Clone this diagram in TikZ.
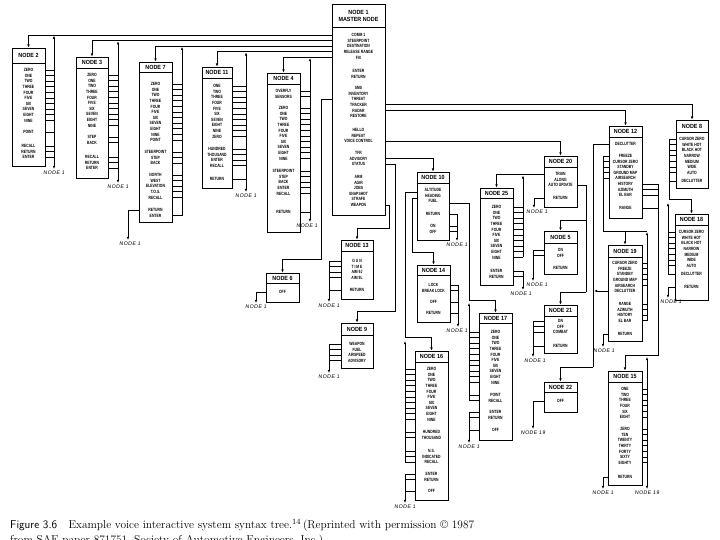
\documentclass[tikz,border=0pt]{standalone}
\usepackage{fontspec}
\newfontfamily\bodyf[FakeStretch=0.74]{Liberation Sans}
\newfontfamily\hdrf[FakeStretch=0.9]{Liberation Sans}
\newfontfamily\lblf[LetterSpace=8,FakeSlant=0.12]{Liberation Sans}
\usetikzlibrary{arrows.meta,fit}
\tikzset{
  ln/.style={line width=0.7pt},
  arr/.style={ln,-{Latex[length=3.2pt,width=2.6pt]}},
  arrtwo/.style={ln,{Latex[length=3.2pt,width=2.6pt]}-{Latex[length=3.2pt,width=2.6pt]}},
  body/.style={font=\bodyf\bfseries\fontsize{4.6}{5.6}\selectfont, align=center, inner sep=0pt, anchor=north},
  hdr/.style={font=\hdrf\bfseries\fontsize{6}{7}\selectfont, align=center, inner sep=0pt},
  lbl/.style={font=\lblf\fontsize{5.2}{6}\selectfont, inner sep=0pt, anchor=north},
}
\newcommand\mkbox[7]{%
  \node[fit={(#2,#3) (#4,#6)}, inner sep=0pt, draw, ln] (#1) {};
  \draw[line width=1.3pt] (#2+1.2,#6+0.6) -- (#4+0.6,#6+0.6) -- (#4+0.6,#3+1.2);
  \draw[ln] (#2,#5) -- (#4,#5);
  \node[hdr] (#1h) at ({(#2+#4)/2},{(#3+#5)/2+0.3}) {#7};
}
\newcommand\btxt[4]{\node[body] (#1) at (#2,#3-1.8) {#4};}
\newcommand\mystubs[3]{\foreach \yy in {#3}{\draw[ln] (#1,\yy) -- (#2,\yy);}}
\newcommand\nlab[4]{\node[lbl] (#1) at (#2,#3) {#4};}
\newcommand\digs{ZERO\\ONE\\TWO\\THREE\\FOUR\\FIVE\\SIX\\SEVEN\\EIGHT\\NINE}
\newcommand\irmodes{CURSOR ZERO\\WHITE HOT\\BLACK HOT\\NARROW\\MEDIUM\\WIDE\\AUTO}
\begin{document}
\begin{tikzpicture}[x=1pt,y=-1pt]
\useasboundingbox (0,0) rectangle (720,540);
\clip (0,0) rectangle (720,540);
\fill[white] (0,0) rectangle (720,540);

% ---------- boxes
\mkbox{n1}{332}{4}{385}{27}{215}{NODE 1\\MASTER NODE}
\mkbox{n2}{12}{48}{45}{63}{166}{NODE 2}
\mkbox{n3}{76}{57}{108}{68}{178}{NODE 3}
\mkbox{n7}{139}{62}{172}{72}{222}{NODE 7}
\mkbox{n11}{202}{67}{232}{78}{188}{NODE 11}
\mkbox{n4}{267}{73}{300}{84}{232}{NODE 4}
\mkbox{n6}{266}{273}{299}{283}{302}{NODE 6}
\mkbox{n13}{341}{240}{373}{251}{299}{NODE 13}
\mkbox{n9}{341}{323}{373}{335}{368}{NODE 9}
\mkbox{n10}{417}{172}{449}{183}{240}{NODE 10}
\mkbox{n14}{417}{265}{450}{275}{322}{NODE 14}
\mkbox{n16}{415}{351}{448}{362}{500}{NODE 16}
\mkbox{n17}{479}{313}{512}{323}{440}{NODE 17}
\mkbox{n25}{480}{188}{513}{198}{285}{NODE 25}
\mkbox{n20}{544}{156}{577}{167}{207}{NODE 20}
\mkbox{n5}{544}{231}{577}{243}{274}{NODE 5}
\mkbox{n21}{544}{305}{577}{316}{353}{NODE 21}
\mkbox{n22}{544}{382}{577}{392}{412}{NODE 22}
\mkbox{n12}{609}{126}{642}{137}{218}{NODE 12}
\mkbox{n19}{608}{245}{642}{257}{341}{NODE 19}
\mkbox{n8}{676}{120}{708}{132}{188}{NODE 8}
\mkbox{n18}{675}{214}{708}{225}{300}{NODE 18}
\mkbox{n15}{608}{371}{642}{382}{485}{NODE 15}

% ---------- texts
\btxt{n1a}{358.5}{35}{COMM 1\\STEERPOINT\\DESTINATION\\RELEASE RANGE\\FIX}
\btxt{n1b}{358.5}{71}{ENTER\\RETURN}
\btxt{n1c}{358.5}{88}{SMS\\INVENTORY\\THREAT\\TRACKER\\RADAR\\RESTORE}
\btxt{n1d}{358.5}{130}{HELLO\\REPEAT\\VOICE CONTROL}
\btxt{n1e}{358.5}{153}{TFR\\ADVISORY\\STATUS}
\btxt{n1f}{358.5}{177}{ARM\\AGIR\\JOBS\\SNAPSHOT\\STRAFE\\WEAPON}

\btxt{n2a}{28.5}{70}{\digs}
\btxt{n2b}{28.5}{132}{POINT}
\btxt{n2c}{28.5}{146}{RECALL\\RETURN\\ENTER}

\btxt{n3a}{92}{75}{\digs}
\btxt{n3b}{92}{137}{STEP\\BACK}
\btxt{n3c}{92}{157}{RECALL\\RETURN\\ENTER}

\btxt{n7a}{155.5}{84}{\digs\\POINT}
\btxt{n7b}{155.5}{152}{STEERPOINT\\STEP\\BACK}
\btxt{n7c}{155.5}{175}{NORTH\\WEST\\ELEVATION\\T.O.S.\\RECALL}
\btxt{n7d}{155.5}{210}{RETURN\\ENTER}

\btxt{n11a}{217}{86}{ONE\\TWO\\THREE\\FOUR\\FIVE\\SIX\\SEVEN\\EIGHT\\NINE\\ZERO}
\btxt{n11b}{217}{149}{HUNDRED\\THOUSAND\\ENTER\\RECALL}
\btxt{n11c}{217}{179}{RETURN}

\btxt{n4a}{283.5}{91}{OVERFLY\\SENSORS}
\btxt{n4b}{283.5}{108}{\digs}
\btxt{n4c}{283.5}{171}{STEERPOINT\\STEP\\BACK\\ENTER\\RECALL}
\btxt{n4d}{283.5}{212}{RETURN}

\btxt{n6a}{282.5}{292}{OFF}

\btxt{n13a}{357}{261}{G U N\\T I M E\\AIM 9J\\AIM 9L}
\btxt{n13b}{357}{290}{RETURN}

\btxt{n9a}{357}{344}{WEAPON\\FUEL\\AIRSPEED\\ADVISORY}

\btxt{n10a}{433}{190}{ALTITUDE\\HEADING\\FUEL}
\btxt{n10b}{433}{214}{RETURN}
\btxt{n10c}{433}{226}{ON\\OFF}

\btxt{n14a}{433.5}{285}{LOCK\\BREAK LOCK}
\btxt{n14b}{433.5}{302}{OFF}
\btxt{n14c}{433.5}{313}{RETURN}

\btxt{n16a}{431.5}{369}{\digs}
\btxt{n16b}{431.5}{432}{HUNDRED\\THOUSAND}
\btxt{n16c}{431.5}{451}{N.S.\\INDICATED\\RECALL}
\btxt{n16d}{431.5}{474}{ENTER\\RETURN}
\btxt{n16e}{431.5}{491}{OFF}

\btxt{n17a}{495.5}{332}{\digs}
\btxt{n17b}{495.5}{395}{POINT\\RECALL}
\btxt{n17c}{495.5}{412}{ENTER\\RETURN}
\btxt{n17d}{495.5}{430}{OFF}

\btxt{n25a}{496.5}{207}{\digs}
\btxt{n25b}{496.5}{271}{ENTER\\RETURN}

\btxt{n20a}{560.5}{174}{TRAIN\\ALONG\\AUTO UPDATE}
\btxt{n20b}{560.5}{198}{RETURN}

\btxt{n5a}{560.5}{250}{ON\\OFF}
\btxt{n5b}{560.5}{268}{RETURN}

\btxt{n21a}{560.5}{321}{ON\\OFF\\COMBAT}
\btxt{n21b}{560.5}{346}{RETURN}

\btxt{n22a}{560.5}{401}{OFF}

\btxt{n12a}{625.5}{144}{DECLUTTER}
\btxt{n12b}{625.5}{156}{FREEZE\\CURSOR ZERO\\STANDBY\\GROUND MAP\\AIRSEARCH\\HISTORY\\AZIMUTH\\EL BAR}
\btxt{n12c}{625.5}{208}{RANGE}

\btxt{n19a}{625}{263}{CURSOR ZERO\\FREEZE\\STANDBY\\GROUND MAP\\AIRSEARCH\\DECLUTTER}
\btxt{n19b}{625}{304}{RANGE\\AZIMUTH\\HISTORY\\EL BAR}
\btxt{n19c}{625}{334}{RETURN}

\btxt{n8a}{692}{139}{\irmodes}
\btxt{n8b}{692}{181}{DECLUTTER}

\btxt{n18a}{691.5}{232}{\irmodes}
\btxt{n18b}{691.5}{274}{DECLUTTER}
\btxt{n18c}{691.5}{287}{RETURN}

\btxt{n15a}{625}{389}{ONE\\TWO\\THREE\\FOUR\\SIX\\EIGHT}
\btxt{n15b}{625}{429}{ZERO\\TEN\\TWENTY\\THIRTY\\FORTY\\SIXTY\\EIGHTY}
\btxt{n15c}{625}{477}{RETURN}

% ---------- master node, left side
\draw[arr] (n1.west |- 0,35) -| (n2.north);
\draw[arr] (n1.west |- 0,40.6) -| (n3.north);
\draw[arr] (n1.west |- 0,46.2) -| (n7.north);
\draw[arr] (n1.west |- 0,51.8) -| (n11.north);
\draw[arr] (n1.west |- 0,57.4) -| (n4.north);
\draw[arr] (n1.west |- 0,99.2) -| (321,259) -| (n6.north);

% node 2
\mystubs{45}{54}{70,75.6,81.2,86.8,92.4,98,103.6,109.2,114.8,120.4,132,146,151.6,157.2}
\draw[arrtwo] (54,169) -- (54,35.6);
\nlab{l2}{54}{171}{NODE 1}
% node 3
\mystubs{108}{118}{75,80.6,86.2,91.8,97.4,103,108.6,114.2,119.8,125.4,137,142.6,157,162.6,168.2}
\draw[arrtwo] (118,183) -- (118,41.2);
\nlab{l3}{118}{185}{NODE 1}
% node 7
\mystubs{172}{182}{84,89.6,95.2,100.8,106.4,112,117.6,123.2,128.8,134.4,140,152,157.6,163.2,175,180.6,186.2,191.8,197.4,215.6}
\draw[arr] (182,215.6) -- (182,46.8);
\draw[arr] (n7.west |- 0,210) -| (128,240);
\nlab{l7}{130}{242}{NODE 1}
% node 11
\mystubs{232}{246}{86,91.6,97.2,102.8,108.4,114,119.6,125.2,130.8,136.4,149,154.6,160.2,165.8,179}
\draw[arrtwo] (246,192) -- (246,52.4);
\nlab{l11}{246}{194}{NODE 1}
% node 4
\mystubs{300}{310}{91,96.6,108,113.6,119.2,124.8,130.4,136,141.6,147.2,152.8,158.4,171,176.6,182.2,187.8,193.4,212}
\draw[arrtwo] (310,222) -- (310,58);
\nlab{l4}{307}{224}{NODE 1}
% node 6
\draw[arr] (n6.west |- 0,292) -| (256,303);
\nlab{l6}{256}{305}{NODE 1}

% ---------- master node, right side
\draw[arr] (n1.east |- 0,205) -| (389,228) -| (n13.north);
\draw[arr] (n1.east |- 0,164.2) -| (395,311) -| (n9.north);
\draw[arr] (n1.east |- 0,158.6) -| (n10.north);
\draw[arr] (n1.east |- 0,141.2) -| (n20.north);
\draw[arr] (n1.east |- 0,110.4) -| (n12.north);
\draw[arr] (n1.east |- 0,104.8) -| (n8.north);

% node 13 / node 9
\mystubs{329}{341}{261,266.6,272.2,277.8,290}
\draw[arr] (329,261) -- (329,302);
\nlab{l13}{329}{304}{NODE 1}
\mystubs{329}{341}{344,349.6,355.2,360.8}
\draw[arr] (329,344) -- (329,373);
\nlab{l9}{329}{375}{NODE 1}

% node 10
\mystubs{449}{457}{214,226,231.6}
\draw[arr] (457,214) -- (457,241);
\nlab{l10}{457}{243}{NODE 1}
\draw[arr] (n10.east |- 0,203) -| (469,300) -| (n17.north);
\draw[arr] (n10.west |- 0,198) -| (412,252) -| (n14.north);
\draw[arr] (n10.west |- 0,192) -| (405,337) -| (n16.north);

% node 14
\mystubs{450}{458}{285,290.6,302,313}
\draw[arr] (458,285) -- (458,327);
\nlab{l14}{457}{329}{NODE 1}

% node 16
\mystubs{405}{415}{369,374.6,380.2,385.8,391.4,397,402.6,408.2,413.8,419.4,432,437.6,451,456.6,462.2,474,479.6,491}
\draw[arr] (405,462.2) -- (405,341);
\draw[arr] (405,474) -- (405,503);
\nlab{l16}{405}{505}{NODE 1}

% node 17
\mystubs{469}{479}{332,337.6,343.2,348.8,354.4,360,365.6,371.2,376.8,382.4,395,400.6,412,417.6,430}
\draw[arr] (469,400.6) -- (469,303);
\draw[arr] (469,412) -- (469,443);
\nlab{l17}{469}{445}{NODE 1}

% node 20 / 25
\draw[arr] (n20.west |- 0,174) -| (n25.north);
\mystubs{513}{523}{207,212.6,218.2,223.8,229.4,235,240.6,246.2,251.8,257.4,271,276.6}
\draw[arr] (523,257.4) -- (523,175.5);
\draw[arr] (523,271) -- (523,290);
\nlab{l25}{521}{292}{NODE 1}
\draw[arr] (n20.west |- 0,198) -| (534,208);
\nlab{l20}{537}{210}{NODE 1}
\draw[ln] (n20.east |- 0,185.2) -| (586,292);
\draw[arr] (586,292) -| (n21.north);
\draw[arr] (586,220) -| (n5.north);

% node 5
\mystubs{533}{544}{250,255.6}
\draw[arr] (533,250) -- (533,281);
\nlab{l5}{537}{283}{NODE 1}
% node 21
\mystubs{533}{544}{321,326.6,332.2,346}
\draw[arr] (533,321) -- (533,357);
\nlab{l21}{535}{359}{NODE 1}
% node 22
\draw[arr] (n22.west |- 0,401) -| (533,429);
\nlab{l22}{533}{431}{NODE 19}

% node 12
\mystubs{603}{609}{156,161.6,167.2,172.8,178.4}
\draw[ln] (603,156) |- (647,231);
\draw[arr] (n19.north |- 0,231) -- (n19.north);
\draw[ln] (n12.west |- 0,144) -| (593,367);
\draw[arr] (593,367) -| (n22.north);
\mystubs{642}{658}{184,189.6,195.2,208}
\draw[arr] (658,184) |- (n15.north |- 0,355) -- (n15.north);

% node 19
\mystubs{642}{647}{263,268.6,274.2,279.8,285.4,304,309.6,315.2,320.8}
\draw[arr] (647,320.8) -- (647,232);
\draw[arr] (n19.west |- 0,291) -- (594,291);
\draw[arr] (n19.west |- 0,334) -| (603,347);
\nlab{l19}{604}{349}{NODE 1}

% node 8 / 18
\mystubs{669}{676}{139,144.6,150.2,155.8,161.4,167,172.6,181}
\draw[arr] (669,139) |- (n18.north |- 0,199) -- (n18.north);
\mystubs{668}{675}{232,237.6,243.2,248.8,254.4,260,265.6,274}
\draw[arr] (668,274) -- (668,203);
\draw[arr] (n18.west |- 0,287) -| (668,298);
\nlab{l18}{671}{300}{NODE 1}

% node 15
\mystubs{642}{647}{389,394.6,400.2,405.8,411.4,417,429,434.6,440.2,445.8,451.4,457,462.6}
\draw[arrtwo] (647,489) -- (647,357);
\nlab{l15b}{647}{491}{NODE 19}
\draw[arr] (n15.west |- 0,477) -| (603,489);
\nlab{l15a}{603}{491}{NODE 1}

% ---------- caption
\node[anchor=base west, inner sep=0pt, font=\fontsize{11.4}{13}\selectfont] (cap1) at (10,528)
  {{\sffamily Figure 3.6}\quad Example voice interactive system syntax tree.\textsuperscript{14}\,(Reprinted with permission \textcopyright\ 1987};
\node[anchor=base west, inner sep=0pt, font=\fontsize{11.4}{13}\selectfont] (cap2) at (10,543)
  {from SAE paper 871751, Society of Automotive Engineers, Inc.)};
\end{tikzpicture}
\end{document}
